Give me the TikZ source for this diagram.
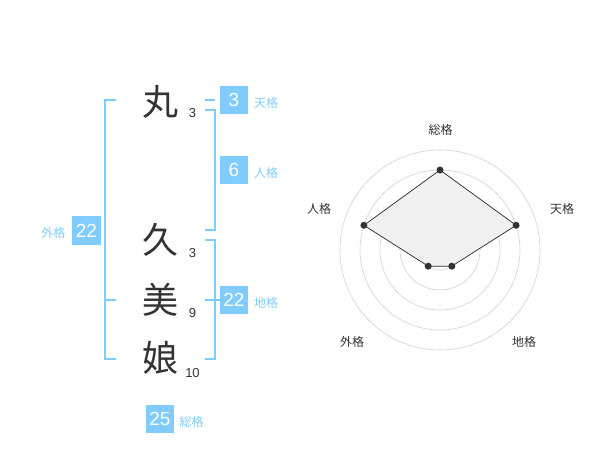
\documentclass[tikz,border=0pt]{standalone}
\usepackage{fontspec}
\setmainfont{Liberation Sans}
\newfontfamily\jp{Noto Sans CJK JP}
\definecolor{nblue}{HTML}{80CCFF}
\definecolor{ntext}{HTML}{333333}
\begin{document}
\begin{tikzpicture}[x=1pt,y=-1pt,
 kanji/.style={font=\jp\fontsize{36}{36}\selectfont, text=ntext, inner sep=0},
 strokes/.style={font=\fontsize{13}{13}\selectfont, text=ntext, inner sep=0, anchor=base},
 numbox/.style={fill=nblue, text=white, minimum width=28.5pt, minimum height=28.5pt, inner sep=0, font=\fontsize{19}{19}\selectfont},
 kaku/.style={text=nblue, font=\jp\fontsize{12}{12}\selectfont, inner sep=0},
 brk/.style={draw=nblue, line width=2pt},
 ring/.style={draw=black!18, line width=0.6pt},
 rlabel/.style={font=\jp\fontsize{12}{12}\selectfont, text=ntext, inner sep=0},
 rdot/.style={circle, fill=ntext, inner sep=0, minimum size=7pt}]
\useasboundingbox (0,0) rectangle (600,470);
% name characters
\node[kanji] (k1) at (160,101.5) {丸};
\node[kanji] (k2) at (160,240) {久};
\node[kanji] (k3) at (160,300) {美};
\node[kanji] (k4) at (160,358) {娘};
\node[strokes] (s1) at (192.5,118) {3};
\node[strokes] (s2) at (192.5,257.3) {3};
\node[strokes] (s3) at (192.5,318) {9};
\node[strokes] (s4) at (192.5,377.3) {10};
% boxes
\node[numbox] (ten) at (234,100) {3};
\node[numbox] (jin) at (234,170) {6};
\node[numbox] (chi) at (234,300) {22};
\node[numbox] (gai) at (86.5,230.5) {22};
\node[numbox] (sou) at (160,419) {25};
\node[kaku] (tenl) at (266,102.5) {天格};
\node[kaku] (jinl) at (266,172.5) {人格};
\node[kaku] (chil) at (266,302.5) {地格};
\node[kaku] (gail) at (53.3,232.5) {外格};
\node[kaku] (soul) at (191.7,421.5) {総格};
% brackets
\coordinate (lt) at (116,100);
\coordinate (lb) at (116,359.3);
\coordinate (lm) at (116,300);
\draw[brk] (lt) -- (105,100) -- (105,359.3) -- (lb);
\draw[brk] (lm) -- (105,300);
\draw[brk] (205,100) -- (215,100);
\draw[brk] (205,110) -- (215,110) -- (215,230) -- (205,230);
\draw[brk] (205,240) -- (215,240) -- (215,359.3) -- (205,359.3);
\draw[brk] (chi.west) -- (205,300);
% radar
\coordinate (c) at (440,250);
\foreach \r in {20,40,60,80,100} \draw[ring] (c) circle[radius=\r];
\fill[black!20] (c) circle[radius=3.2];
\coordinate (p1) at (440,170);
\coordinate (p2) at (516.1,225.3);
\coordinate (p3) at (451.8,266.2);
\coordinate (p4) at (428.2,266.2);
\coordinate (p5) at (363.9,225.3);
\filldraw[fill=black!6, draw=black!85, line width=0.7pt] (p1) -- (p2) -- (p3) -- (p4) -- (p5) -- cycle;
\foreach \p in {p1,p2,p3,p4,p5} \node[rdot] at (\p) {};
\node[rlabel] (r1) at (440.5,130) {総格};
\node[rlabel] (r2) at (562,209) {天格};
\node[rlabel] (r3) at (524,342) {地格};
\node[rlabel] (r4) at (352,342) {外格};
\node[rlabel] (r5) at (319,209) {人格};
\end{tikzpicture}
\end{document}
